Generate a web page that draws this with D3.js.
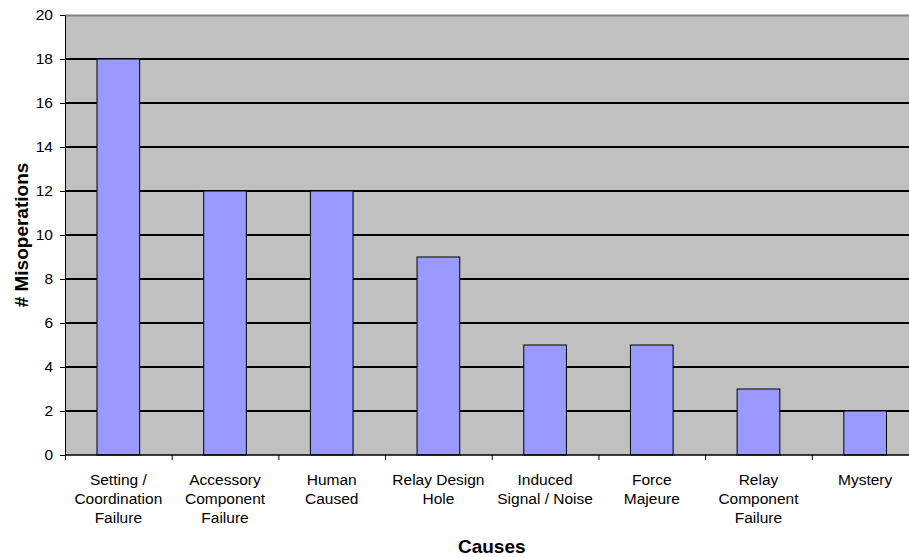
<!DOCTYPE html>
<html>
<head>
<meta charset="utf-8">
<script src="https://cdn.jsdelivr.net/npm/d3@7"></script>
<style>
  html, body { margin: 0; padding: 0; background: #ffffff; }
  svg { display: block; font-family: "Liberation Sans", Arial, sans-serif; }
</style>
</head>
<body>
<svg id="chart" width="909" height="557"></svg>
<script>
// Misoperation counts by cause
const categories = [
  ["Setting /", "Coordination", "Failure"],
  ["Accessory", "Component", "Failure"],
  ["Human", "Caused"],
  ["Relay Design", "Hole"],
  ["Induced", "Signal / Noise"],
  ["Force", "Majeure"],
  ["Relay", "Component", "Failure"],
  ["Mystery"]
];
const values = [18, 12, 12, 9, 5, 5, 3, 2];
const yTicks = [0, 2, 4, 6, 8, 10, 12, 14, 16, 18, 20];

const svg = d3.select("#chart");
const plot = { left: 65, top: 15, right: 918.5, bottom: 455 };

const keys = categories.map((c, i) => i);
const x = d3.scaleBand().domain(keys).range([plot.left, plot.right]).paddingInner(0).paddingOuter(0);
const y = d3.scaleLinear().domain([0, 20]).range([plot.bottom, plot.top]);

// plot background
svg.append("rect")
  .attr("x", plot.left).attr("y", plot.top)
  .attr("width", plot.right - plot.left).attr("height", plot.bottom - plot.top)
  .attr("fill", "#c0c0c0");

// top border
svg.append("line")
  .attr("x1", plot.left).attr("x2", plot.right)
  .attr("y1", plot.top + 0.5).attr("y2", plot.top + 0.5)
  .attr("stroke", "#808080").attr("stroke-width", 2);

// gridlines
svg.append("g").selectAll("line")
  .data(yTicks.filter(t => t > 0 && t < 20))
  .join("line")
  .attr("x1", plot.left).attr("x2", plot.right)
  .attr("y1", d => y(d)).attr("y2", d => y(d))
  .attr("stroke", "#000000").attr("stroke-width", 2);

// bars
const bw = x.bandwidth() * 0.4;
svg.append("g").selectAll("rect")
  .data(values)
  .join("rect")
  .attr("x", (d, i) => x(i) + (x.bandwidth() - bw) / 2)
  .attr("y", d => y(d))
  .attr("width", bw)
  .attr("height", d => y(0) - y(d))
  .attr("fill", "#9999ff")
  .attr("stroke", "#000000")
  .attr("stroke-width", 1);

// y axis
const yAxis = d3.axisLeft(y).tickValues(yTicks).tickSize(5).tickPadding(7).tickSizeOuter(0);
const gy = svg.append("g").attr("transform", `translate(${plot.left},0)`).call(yAxis);
gy.select(".domain").attr("stroke", "#000").attr("stroke-width", 1);
gy.selectAll(".tick line").attr("stroke", "#000");
gy.selectAll(".tick text").attr("font-size", 15.5).attr("fill", "#000")
  .attr("font-family", "'Liberation Sans', Arial, sans-serif");

// x axis baseline and category boundary ticks
svg.append("line")
  .attr("x1", plot.left).attr("x2", plot.right)
  .attr("y1", plot.bottom).attr("y2", plot.bottom)
  .attr("stroke", "#000").attr("stroke-width", 1.5);
svg.append("g").selectAll("line")
  .data(keys)
  .join("line")
  .attr("x1", d => x(d) + 0.5).attr("x2", d => x(d) + 0.5)
  .attr("y1", plot.bottom).attr("y2", plot.bottom + 5)
  .attr("stroke", "#000");

// category labels
const lab = svg.append("g").selectAll("text")
  .data(categories)
  .join("text")
  .attr("x", (d, i) => x(i) + x.bandwidth() / 2)
  .attr("y", 485)
  .attr("text-anchor", "middle")
  .attr("font-size", 15.5)
  .attr("fill", "#000");
lab.each(function(lines) {
  d3.select(this).selectAll("tspan")
    .data(lines)
    .join("tspan")
    .attr("x", d3.select(this).attr("x"))
    .attr("dy", (d, j) => j === 0 ? 0 : 19)
    .text(d => d);
});

// axis titles
svg.append("text")
  .attr("x", (plot.left + plot.right) / 2).attr("y", 553)
  .attr("text-anchor", "middle")
  .attr("font-size", 19).attr("font-weight", "bold")
  .text("Causes");
svg.append("text")
  .attr("transform", `translate(28,${(plot.top + plot.bottom) / 2}) rotate(-90)`)
  .attr("text-anchor", "middle")
  .attr("font-size", 19).attr("font-weight", "bold")
  .text("# Misoperations");
</script>
</body>
</html>
